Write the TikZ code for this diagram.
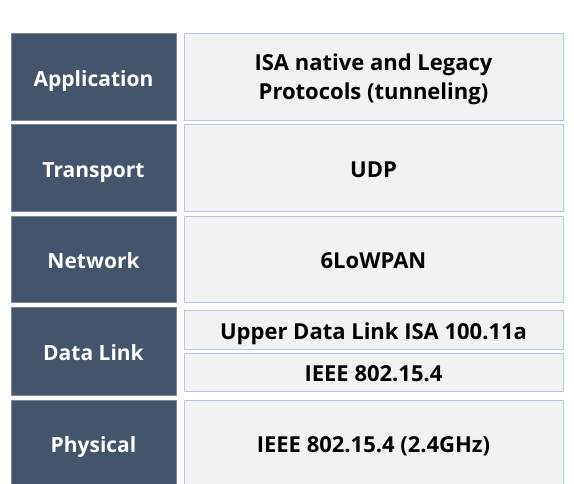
\documentclass[tikz,border=0pt]{standalone}
\usepackage{fontspec}
\setmainfont{Open Sans}
\definecolor{layerdark}{HTML}{44546A}
\definecolor{protofill}{HTML}{F2F2F2}
\definecolor{protoline}{HTML}{B4C7E7}

\begin{document}
\begin{tikzpicture}[x=1pt,y=-1pt,
    layer/.style={fill=layerdark,draw=layerdark!70!white,line width=0.8pt,text=white,
      minimum width=165pt,font=\fontsize{21}{29}\selectfont\bfseries,inner sep=0pt,
      text height=19pt,text depth=0pt},
    proto/.style={fill=protofill,draw=protoline,line width=1pt,text=black,
      minimum width=379pt,font=\fontsize{22}{29}\selectfont\bfseries,inner sep=0pt,align=center,
      text height=19pt,text depth=0pt}]
  \def\lx{93.5};
  \def\rx{373.5};
  \useasboundingbox (0,0) rectangle (574,483);
  \clip (0,0) rectangle (574,483);
  \node[layer,minimum height=87pt] (app) at (\lx,76.5) {Application};
  \node[layer,minimum height=87pt] (trans) at (\lx,167.5) {Transport};
  \node[layer,minimum height=86pt] (net) at (\lx,259) {Network};
  \node[layer,minimum height=88pt] (link) at (\lx,351) {Data Link};
  \node[layer,minimum height=86pt] (phy) at (\lx,443) {Physical};
  \node[proto,minimum height=87pt,text height=45pt] (isa) at (\rx,76.5) {ISA native and Legacy\\Protocols (tunneling)};
  \node[proto,minimum height=87pt] (udp) at (\rx,167.5) {UDP};
  \node[proto,minimum height=86pt] (lowpan) at (\rx,259) {6LoWPAN};
  \node[proto,minimum height=39pt] (upper) at (\rx,329.5) {Upper Data Link ISA 100.11a};
  \node[proto,minimum height=38pt] (mac) at (\rx,372) {IEEE 802.15.4};
  \node[proto,minimum height=86pt] (radio) at (\rx,443) {IEEE 802.15.4 (2.4GHz)};
\end{tikzpicture}
\end{document}
